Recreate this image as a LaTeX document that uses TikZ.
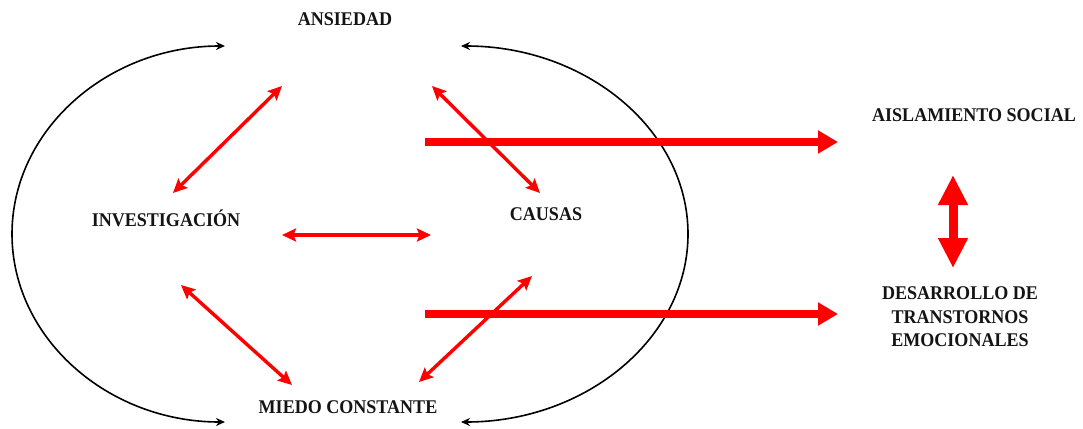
\documentclass[tikz,border=0pt]{standalone}
\usepackage{fontspec}
\setmainfont{Liberation Serif}[FakeStretch=0.93]
\usetikzlibrary{arrows.meta}
\begin{document}
\begin{tikzpicture}[x=1pt,y=-1pt,
  lbl/.style={font=\bfseries\fontsize{19.4}{23.5}\selectfont, inner sep=0pt, align=center, text=black!92},
  thin2/.style={draw=red, line width=3.4pt, {Stealth[length=14pt,width=13pt,inset=2.5pt]}-{Stealth[length=14pt,width=13pt,inset=2.5pt]}},
  thick1/.style={draw=red, line width=7.5pt, -{Triangle[length=20pt,width=22pt]}},
  thick2/.style={draw=red, line width=9pt, {Triangle[length=30pt,width=28pt]}-{Triangle[length=30pt,width=28pt]}},
  loop/.style={draw=black, line width=1.6pt, {Stealth[length=9pt,width=8pt]}-{Stealth[length=9pt,width=8pt]}}]
\useasboundingbox (0,0) rectangle (1083,428);
\fill[white] (0,0) rectangle (1083,428);
% labels
\node[lbl] (ans) at (345,19) {ANSIEDAD};
\node[lbl] (inv) at (166,218) {INVESTIGACIÓN};
\node[lbl] (cau) at (546,214) {CAUSAS};
\node[lbl] (mie) at (348,407) {MIEDO CONSTANTE};
\node[lbl] (ais) at (974,115) {AISLAMIENTO SOCIAL};
\node[lbl] (des) at (960,317) {DESARROLLO DE\\TRANSTORNOS\\EMOCIONALES};
% connector end points
\coordinate (a1) at (282,86);  \coordinate (i1) at (173,193);
\coordinate (a2) at (432,86);  \coordinate (c2) at (540,193);
\coordinate (i3) at (282,235); \coordinate (c3) at (431,235);
\coordinate (i4) at (181,285); \coordinate (m4) at (292,385);
\coordinate (c5) at (532,276); \coordinate (m5) at (419,382);
\coordinate (s1) at (425,142); \coordinate (e1) at (838,142);
\coordinate (s2) at (425,314); \coordinate (e2) at (838,314);
\coordinate (v1) at (953,175); \coordinate (v2) at (953,268);
\coordinate (lt) at (225,46);
\coordinate (rt) at (461,46);
% black loops
\draw[loop] (lt) arc[start angle=270, end angle=90, x radius=213, y radius=188];
\draw[loop] (rt) arc[start angle=270, end angle=450, x radius=227, y radius=188];
% thick arrows
\draw[thick1] (s1) -- (e1);
\draw[thick1] (s2) -- (e2);
\draw[thick2] (v1) -- (v2);
% thin double arrows
\draw[thin2] (i1) -- (a1);
\draw[thin2] (a2) -- (c2);
\draw[thin2] (i3) -- (c3);
\draw[thin2] (i4) -- (m4);
\draw[thin2] (c5) -- (m5);
\end{tikzpicture}
\end{document}
